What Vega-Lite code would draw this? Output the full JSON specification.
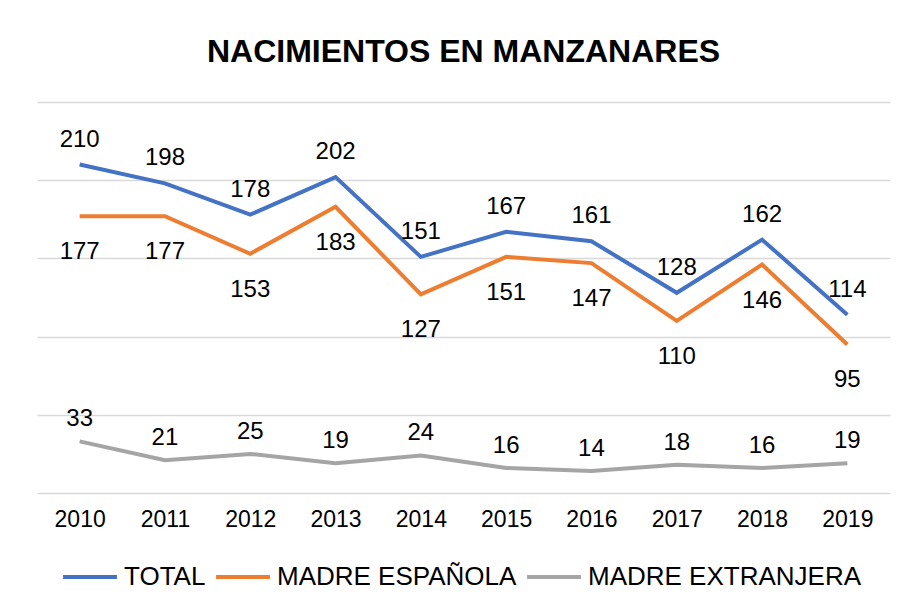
{
  "$schema": "https://vega.github.io/schema/vega-lite/v6.json",
  "width": 853,
  "height": 391,
  "autosize": {"type": "none"},
  "padding": {"left": 37, "top": 102, "right": 15, "bottom": 117},
  "background": "white",
  "title": {
    "text": "NACIMIENTOS EN MANZANARES",
    "font": "Liberation Sans",
    "fontSize": 32,
    "fontWeight": "bold",
    "color": "#000000",
    "anchor": "middle",
    "offset": 33
  },
  "data": {
    "values": [
      {"year": "2010", "serie": "TOTAL", "value": 210},
      {"year": "2011", "serie": "TOTAL", "value": 198},
      {"year": "2012", "serie": "TOTAL", "value": 178},
      {"year": "2013", "serie": "TOTAL", "value": 202},
      {"year": "2014", "serie": "TOTAL", "value": 151},
      {"year": "2015", "serie": "TOTAL", "value": 167},
      {"year": "2016", "serie": "TOTAL", "value": 161},
      {"year": "2017", "serie": "TOTAL", "value": 128},
      {"year": "2018", "serie": "TOTAL", "value": 162},
      {"year": "2019", "serie": "TOTAL", "value": 114},
      {"year": "2010", "serie": "MADRE ESPAÑOLA", "value": 177},
      {"year": "2011", "serie": "MADRE ESPAÑOLA", "value": 177},
      {"year": "2012", "serie": "MADRE ESPAÑOLA", "value": 153},
      {"year": "2013", "serie": "MADRE ESPAÑOLA", "value": 183},
      {"year": "2014", "serie": "MADRE ESPAÑOLA", "value": 127},
      {"year": "2015", "serie": "MADRE ESPAÑOLA", "value": 151},
      {"year": "2016", "serie": "MADRE ESPAÑOLA", "value": 147},
      {"year": "2017", "serie": "MADRE ESPAÑOLA", "value": 110},
      {"year": "2018", "serie": "MADRE ESPAÑOLA", "value": 146},
      {"year": "2019", "serie": "MADRE ESPAÑOLA", "value": 95},
      {"year": "2010", "serie": "MADRE EXTRANJERA", "value": 33},
      {"year": "2011", "serie": "MADRE EXTRANJERA", "value": 21},
      {"year": "2012", "serie": "MADRE EXTRANJERA", "value": 25},
      {"year": "2013", "serie": "MADRE EXTRANJERA", "value": 19},
      {"year": "2014", "serie": "MADRE EXTRANJERA", "value": 24},
      {"year": "2015", "serie": "MADRE EXTRANJERA", "value": 16},
      {"year": "2016", "serie": "MADRE EXTRANJERA", "value": 14},
      {"year": "2017", "serie": "MADRE EXTRANJERA", "value": 18},
      {"year": "2018", "serie": "MADRE EXTRANJERA", "value": 16},
      {"year": "2019", "serie": "MADRE EXTRANJERA", "value": 19}
    ]
  },
  "encoding": {
    "x": {
      "field": "year",
      "type": "ordinal",
      "scale": {"type": "point", "padding": 0.5},
      "axis": {
        "title": null,
        "labelAngle": 0,
        "labelFont": "Liberation Sans",
        "labelFontSize": 23,
        "labelColor": "#000000",
        "labelPadding": 15,
        "ticks": false,
        "domain": false,
        "grid": false
      }
    },
    "y": {
      "field": "value",
      "type": "quantitative",
      "scale": {"domain": [0, 250], "nice": false, "zero": true},
      "axis": {
        "title": null,
        "labels": false,
        "ticks": false,
        "domain": false,
        "grid": true,
        "values": [0, 50, 100, 150, 200, 250],
        "gridColor": "#D9D9D9",
        "gridWidth": 1.5
      }
    }
  },
  "layer": [
    {
      "mark": {"type": "line", "strokeWidth": 4, "strokeJoin": "miter"},
      "encoding": {
        "color": {
          "field": "serie",
          "type": "nominal",
          "sort": ["TOTAL", "MADRE ESPAÑOLA", "MADRE EXTRANJERA"],
          "scale": {
            "domain": ["TOTAL", "MADRE ESPAÑOLA", "MADRE EXTRANJERA"],
            "range": ["#4472C4", "#ED7D31", "#A5A5A5"]
          },
          "legend": {
            "title": null,
            "orient": "none",
            "direction": "horizontal",
            "legendX": 24,
            "legendY": 446,
            "padding": 0,
            "symbolType": "stroke",
            "symbolSize": 2900,
            "symbolStrokeWidth": 4,
            "labelFont": "Liberation Sans",
            "labelFontSize": 26,
            "labelColor": "#000000",
            "labelOffset": 5,
            "columnPadding": 2,
            "labelLimit": 400
          }
        }
      }
    },
    {
      "transform": [{"filter": "datum.serie === 'TOTAL'"}],
      "mark": {"type": "text", "dy": -25, "font": "Liberation Sans", "fontSize": 24, "color": "#000000"},
      "encoding": {"text": {"field": "value", "type": "quantitative"}}
    },
    {
      "transform": [{"filter": "datum.serie === 'MADRE ESPAÑOLA'"}],
      "mark": {"type": "text", "dy": 36, "font": "Liberation Sans", "fontSize": 24, "color": "#000000"},
      "encoding": {"text": {"field": "value", "type": "quantitative"}}
    },
    {
      "transform": [{"filter": "datum.serie === 'MADRE EXTRANJERA'"}],
      "mark": {"type": "text", "dy": -22, "font": "Liberation Sans", "fontSize": 24, "color": "#000000"},
      "encoding": {"text": {"field": "value", "type": "quantitative"}}
    }
  ],
  "config": {
    "view": {"stroke": null}
  }
}
